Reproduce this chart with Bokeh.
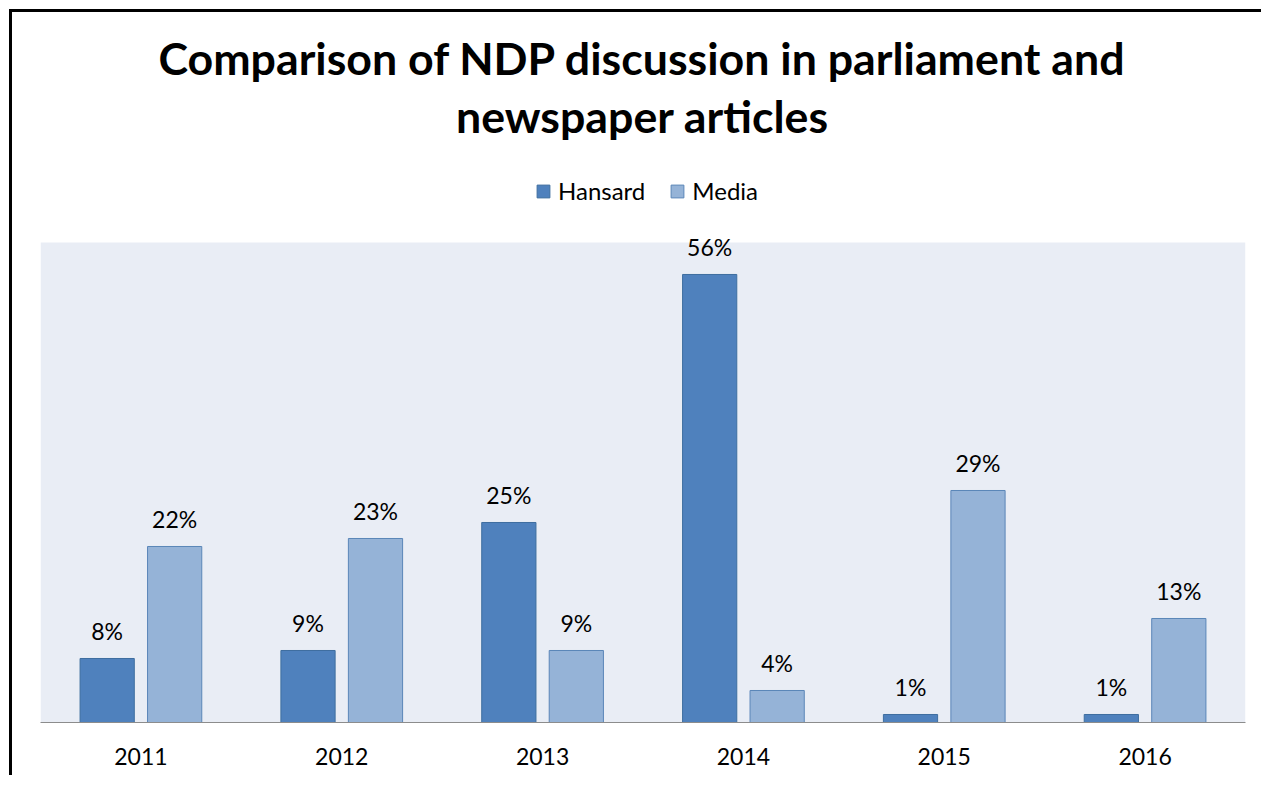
from bokeh.plotting import figure
from bokeh.models import (ColumnDataSource, FactorRange, Range1d, LabelSet, Label, Legend,
                          LegendItem, BoxAnnotation)
from bokeh.core.properties import value
from bokeh.transform import dodge
from bokeh.embed import file_html
from bokeh.resources import INLINE

years = ["2011", "2012", "2013", "2014", "2015", "2016"]
hansard = [8, 9, 25, 56, 1, 1]
media = [22, 23, 9, 4, 29, 13]
hansard_labels = [f"{v}%" for v in hansard]
media_labels = [f"{v}%" for v in media]
title_lines = ["Comparison of NDP discussion in parliament and", "newspaper articles"]
y_max_plot = 60  # top of the shaded plot area (value axis)

src = ColumnDataSource(dict(years=years, hansard=hansard, media=media,
                            hl=hansard_labels, ml=media_labels))

FONT = "Lato"
FRAME_H = 707          # pixel height of frame (whole area above the axis)
SHADED_H = 478         # pixel height of the shaded plot area
y_top = y_max_plot * FRAME_H / SHADED_H

p = figure(x_range=FactorRange(*years, range_padding=0), y_range=Range1d(0, y_top),
           width=1252, height=766, output_backend="svg", toolbar_location=None,
           min_border_left=28, min_border_right=19, min_border_bottom=56, min_border_top=0)
p.styles = {"margin-left": "9px", "margin-top": "9px",
            "border-left": "3px solid #000000", "border-top": "3px solid #000000"}

p.background_fill_color = "#FFFFFF"
p.outline_line_color = None
p.grid.grid_line_color = None
p.yaxis.visible = False

p.add_layout(BoxAnnotation(bottom=0, top=y_max_plot, fill_color="#E9EDF5", fill_alpha=1,
                           line_color=None, level="underlay"))

p.xaxis.axis_line_color = "#8C8C8C"
p.xaxis.axis_line_width = 1
p.xaxis.major_tick_line_color = None
p.xaxis.minor_tick_line_color = None
p.xaxis.major_label_text_font = FONT
p.xaxis.major_label_text_font_size = "23px"
p.xaxis.major_label_text_color = "#000000"
p.xaxis.major_label_standoff = 19

r1 = p.vbar(x=dodge("years", -0.168, range=p.x_range), top="hansard", width=0.27, source=src,
            fill_color="#4F81BD", line_color="#3E6E9F", line_width=1)
r2 = p.vbar(x=dodge("years", 0.168, range=p.x_range), top="media", width=0.27, source=src,
            fill_color="#95B3D7", line_color="#5B86B8", line_width=1)

for col, lab, off in (("hansard", "hl", -0.168), ("media", "ml", 0.168)):
    p.add_layout(LabelSet(x=dodge("years", off, range=p.x_range), y=col, text=lab, source=src,
                          text_align="center", text_baseline="alphabetic", y_offset=18,
                          text_font=value(FONT), text_font_size="23px", text_color="#000000"))

for txt, yy in ((title_lines[0], 665), (title_lines[1], 607)):
    p.add_layout(Label(x=602, y=yy, x_units="screen", y_units="screen", text=txt,
                       text_align="center", text_baseline="alphabetic",
                       text_font=FONT, text_font_style="bold", text_font_size="44.7px",
                       text_color="#000000"))

legend = Legend(items=[LegendItem(label="Hansard", renderers=[r1]),
                       LegendItem(label="Media", renderers=[r2])],
                orientation="horizontal", location=(495, 517),
                label_text_font=FONT, label_text_font_size="24px", label_text_color="#000000",
                glyph_width=16, glyph_height=16, spacing=24, label_standoff=7,
                border_line_color=None, background_fill_alpha=0, margin=0, padding=0)
p.add_layout(legend, "center")

open("out.html", "w").write(file_html(p, INLINE))
